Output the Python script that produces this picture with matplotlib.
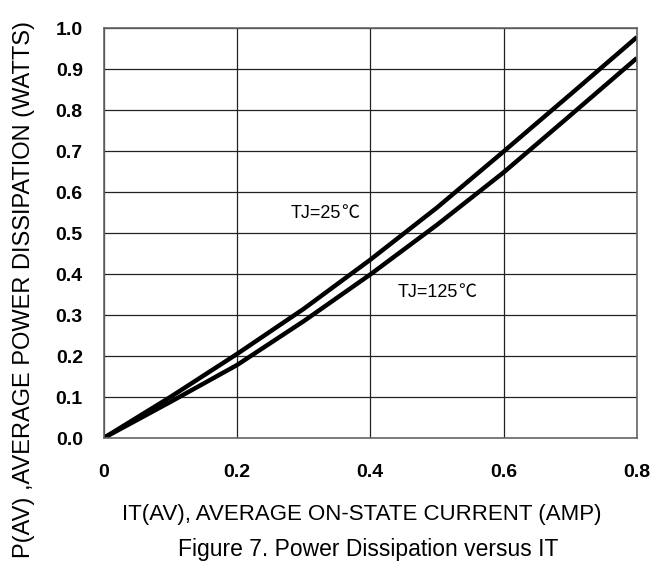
import matplotlib
matplotlib.use("Agg")
import matplotlib.pyplot as plt

# Power dissipation vs average on-state current
current = [0.0, 0.1, 0.2, 0.3, 0.4, 0.5, 0.6, 0.7, 0.8]
p_tj25 = [0.0, 0.10, 0.205, 0.315, 0.435, 0.562, 0.699, 0.838, 0.978]
p_tj125 = [0.0, 0.088, 0.178, 0.285, 0.399, 0.52, 0.648, 0.787, 0.927]

x_ticks = [0, 0.2, 0.4, 0.6, 0.8]
x_tick_labels = ["0", "0.2", "0.4", "0.6", "0.8"]
y_ticks = [i / 10 for i in range(11)]
y_tick_labels = [f"{v:.1f}" for v in y_ticks]

plt.rcParams['font.family'] = ['Liberation Sans', 'Noto Sans CJK SC', 'DejaVu Sans']

fig = plt.figure(figsize=(6.69, 5.63), dpi=100)
ax = fig.add_axes([0.155, 0.222, 0.797, 0.728])

ax.plot(current, p_tj25, color='black', lw=3.2, solid_capstyle='butt')
ax.plot(current, p_tj125, color='black', lw=3.2, solid_capstyle='butt')

ax.set_xlim(0, 0.8)
ax.set_ylim(0, 1.0)
ax.set_xticks(x_ticks)
ax.set_xticklabels(x_tick_labels, fontsize=14, fontweight='bold')
ax.set_yticks(y_ticks)
ax.set_yticklabels(y_tick_labels, fontsize=14, fontweight='bold')
ax.tick_params(axis='x', length=0, pad=18.5)
ax.tick_params(axis='y', length=0, pad=15)

ax.grid(True, color='#222222', lw=0.9)
for s in ax.spines.values():
    s.set_color('#666666')
    s.set_linewidth(1.2)

# curve labels; the degree sign comes from the CJK font like in the original
t1 = ax.text(0.281, 0.548, "TJ=25", fontsize=13, va='center', ha='left')
ax.annotate("℃", xy=(1, 0), xycoords=t1, va='bottom', ha='left',
            fontsize=13, family=['Noto Sans CJK SC'], fontweight='light')
t2 = ax.text(0.441, 0.356, "TJ=125", fontsize=13, va='center', ha='left')
ax.annotate("℃", xy=(1, 0), xycoords=t2, va='bottom', ha='left',
            fontsize=13, family=['Noto Sans CJK SC'], fontweight='light')

fig.text(0.54, 0.086, "IT(AV), AVERAGE ON-STATE CURRENT (AMP)",
         fontsize=16, ha='center', va='center')
fig.text(0.55, 0.024, "Figure 7. Power Dissipation versus IT",
         fontsize=16.5, ha='center', va='center')
fig.text(0.036, 0.485, "P(AV) ,AVERAGE POWER DISSIPATION (WATTS)",
         fontsize=17, ha='center', va='center', rotation=90)

fig.savefig("out.png", dpi=100)
